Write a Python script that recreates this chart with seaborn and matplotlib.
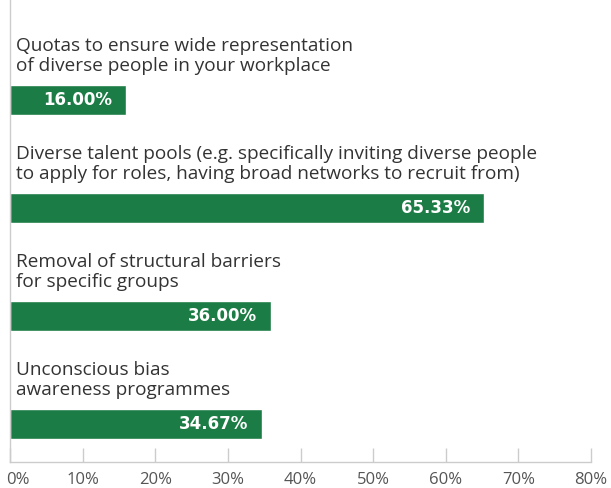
import matplotlib
matplotlib.use("Agg")
import matplotlib.pyplot as plt
import matplotlib.transforms as mtransforms
import seaborn as sns
import pandas as pd

categories = [
    "Quotas to ensure wide representation\nof diverse people in your workplace",
    "Diverse talent pools (e.g. specifically inviting diverse people\nto apply for roles, having broad networks to recruit from)",
    "Removal of structural barriers\nfor specific groups",
    "Unconscious bias\nawareness programmes",
]
values = [16.00, 65.33, 36.00, 34.67]
tick_values = [0, 10, 20, 30, 40, 50, 60, 70, 80]
tick_labels = [f"{t}%" for t in tick_values]

df = pd.DataFrame({"category": categories, "value": values})

sns.set_theme(style="white")
plt.rcParams["font.family"] = ["Open Sans", "DejaVu Sans"]

GREEN = "#1c7c45"
TEXT = "#333333"
GRID = "#cccccc"

fig = plt.figure(figsize=(6.11, 4.88), dpi=100)
ax = fig.add_axes([10 / 611, 26 / 488, 581 / 611, 462 / 488])

sns.barplot(data=df, x="value", y="category", orient="h", color=GREEN,
            width=0.278, saturation=1, ax=ax)

ax.set_xlim(0, 80)
ax.set_ylim(3.352, -0.926)
ax.set_xticks(tick_values)
ax.set_xticklabels(tick_labels)
ax.set_yticks([])
ax.set_xlabel("")
ax.set_ylabel("")

for side in ["top", "right"]:
    ax.spines[side].set_visible(False)
for side in ["left", "bottom"]:
    ax.spines[side].set_color(GRID)
    ax.spines[side].set_linewidth(1.0)

ax.tick_params(axis="x", direction="in", length=10, width=1, color=GRID,
               labelcolor="#555555", labelsize=12, pad=7, bottom=True)

# keep the first tick label inside the figure
first = ax.get_xticklabels()[0]
first.set_transform(first.get_transform() +
                    mtransforms.ScaledTranslation(8 / 100, 0, fig.dpi_scale_trans))

# category labels above each bar
lbl_offset = mtransforms.offset_copy(ax.transData, fig=fig, x=6, y=0, units="dots")
for i, (cat, val) in enumerate(zip(categories, values)):
    ax.text(0, i - 0.139 - 0.09, cat, transform=lbl_offset, ha="left", va="bottom",
            fontsize=13.7, color=TEXT, linespacing=1.15)

# value labels inside bar ends
val_offset = mtransforms.offset_copy(ax.transData, fig=fig, x=-14, y=0, units="dots")
for i, val in enumerate(values):
    ax.text(val, i, f"{val:.2f}%", transform=val_offset, ha="right", va="center",
            fontsize=12, fontweight="bold", color="white",
            family=["DejaVu Sans"])

fig.savefig("out.png", dpi=100)
